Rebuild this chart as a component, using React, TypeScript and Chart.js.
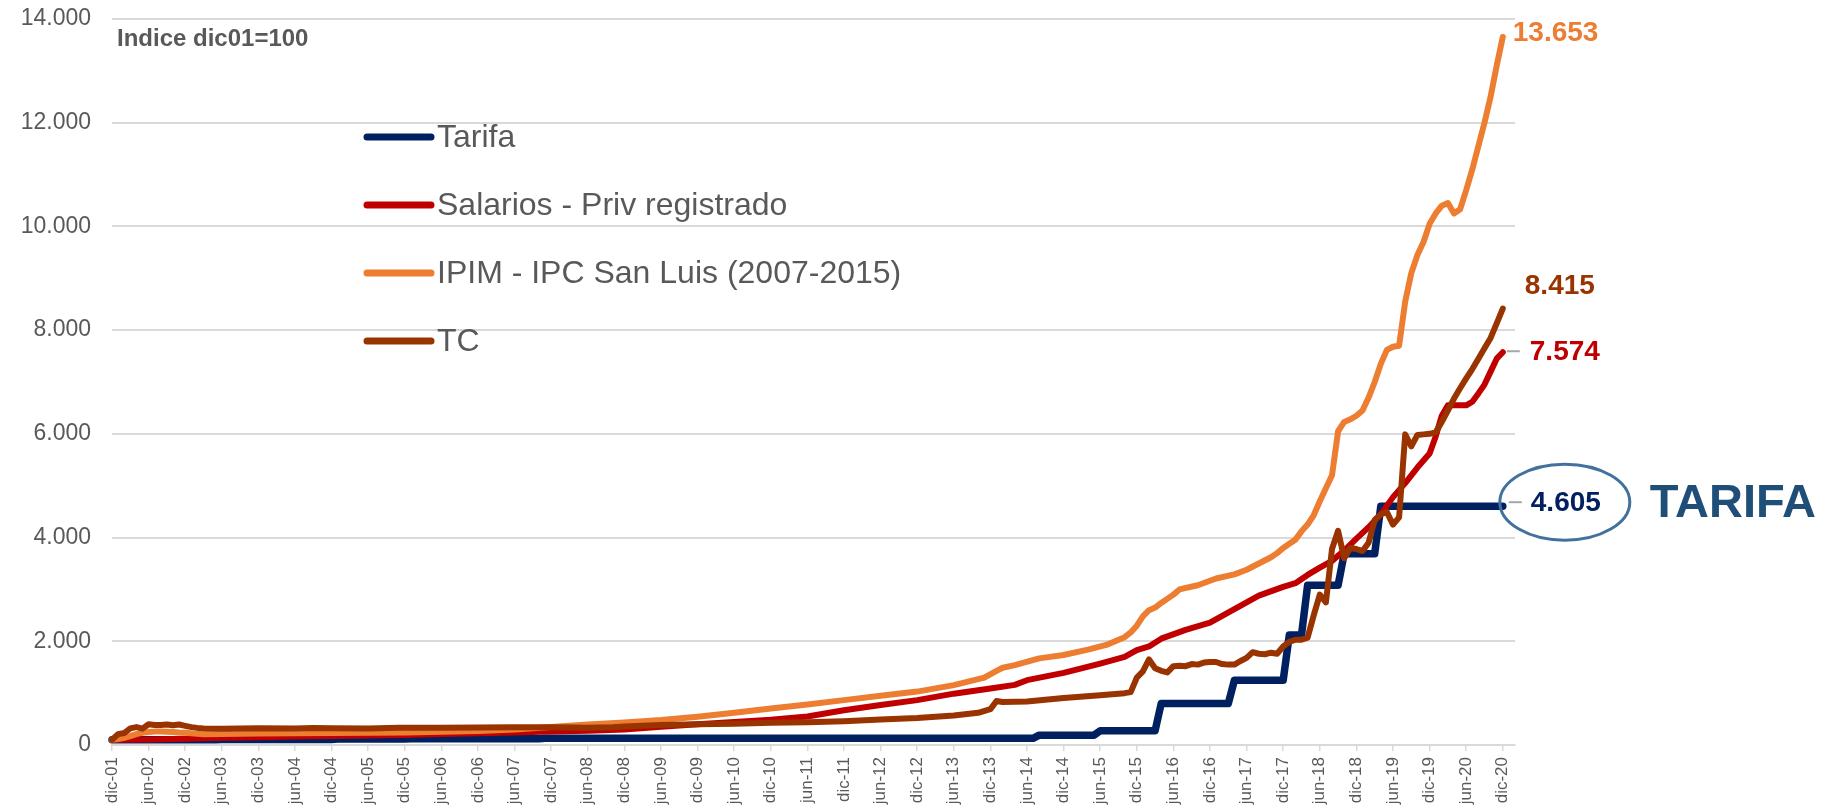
import { useEffect, useRef } from 'react';
import { Chart, registerables } from 'chart.js';

Chart.register(...registerables);

const FONT = '"Liberation Sans", Arial, Helvetica, sans-serif';

// Tick labels: every 6 months, month index 0 = dic-01
const tickLabels = [
  'dic-01', 'jun-02', 'dic-02', 'jun-03', 'dic-03', 'jun-04', 'dic-04', 'jun-05', 'dic-05',
  'jun-06', 'dic-06', 'jun-07', 'dic-07', 'jun-08', 'dic-08', 'jun-09', 'dic-09', 'jun-10',
  'dic-10', 'jun-11', 'dic-11', 'jun-12', 'dic-12', 'jun-13', 'dic-13', 'jun-14', 'dic-14',
  'jun-15', 'dic-15', 'jun-16', 'dic-16', 'jun-17', 'dic-17', 'jun-18', 'dic-18', 'jun-19',
  'dic-19', 'jun-20', 'dic-20',
];

const seriesNames = ['Tarifa', 'Salarios - Priv registrado', 'IPIM - IPC San Luis (2007-2015)', 'TC'];
const seriesColors = ['#002060', '#C00000', '#ED7D31', '#993300'];

// Tarifa (month index -> index value)
const tarifaMonths = [0, 17, 18, 36, 37, 48, 49, 70, 71, 151, 152, 161, 162, 171, 172, 183, 184, 192, 193, 195, 196, 201, 202, 207, 208, 228];
const tarifaValues = [100, 100, 105, 105, 115, 115, 122, 122, 128, 128, 190, 190, 275, 275, 800, 800, 1250, 1250, 2120, 2120, 3080, 3080, 3690, 3690, 4605, 4605];

// Salarios - Priv registrado
const salariosMonths = [0, 6, 12, 18, 24, 30, 36, 42, 48, 54, 60, 66, 72, 78, 84, 90, 96, 102, 108, 114, 120, 126, 132, 138, 144, 148, 150, 156, 162, 166, 168, 170, 172, 176, 180, 184, 188, 192, 194, 196, 198, 200, 202, 204, 206, 208, 210, 212, 214, 216, 217, 218, 219, 222, 223, 224, 225, 226, 227, 228];
const salariosValues = [100, 108, 122, 138, 150, 162, 175, 183, 192, 210, 225, 240, 258, 275, 300, 350, 400, 445, 485, 550, 670, 770, 865, 990, 1090, 1160, 1250, 1390, 1570, 1700, 1830, 1900, 2050, 2220, 2360, 2620, 2880, 3050, 3120, 3280, 3420, 3550, 3750, 3980, 4200, 4450, 4780, 5050, 5350, 5620, 5950, 6350, 6550, 6550, 6620, 6780, 6950, 7200, 7450, 7574];

// IPIM - IPC San Luis (2007-2015)
const ipimMonths = [0, 1, 2, 3, 4, 5, 6, 7, 8, 9, 10, 11, 12, 15, 18, 24, 36, 48, 54, 60, 66, 72, 78, 84, 90, 96, 102, 108, 114, 120, 126, 132, 138, 143, 145, 146, 148, 152, 156, 160, 163, 166, 167, 168, 169, 170, 171, 172, 174, 175, 178, 181, 184, 186, 188, 190, 191, 192, 193, 194, 195, 196, 197, 198, 199, 200, 201, 202, 203, 204, 205, 206, 207, 208, 209, 210, 211, 212, 213, 214, 215, 216, 217, 218, 219, 220, 221, 222, 223, 224, 225, 226, 227, 228];
const ipimValues = [100, 115, 140, 170, 210, 235, 250, 258, 258, 255, 250, 240, 235, 205, 212, 222, 230, 240, 255, 270, 300, 345, 395, 435, 480, 545, 620, 705, 780, 865, 950, 1030, 1155, 1300, 1430, 1490, 1540, 1670, 1735, 1840, 1930, 2080, 2170, 2300, 2480, 2600, 2650, 2740, 2900, 3000, 3080, 3210, 3290, 3380, 3500, 3620, 3700, 3800, 3880, 3960, 4120, 4250, 4430, 4700, 4950, 5200, 6050, 6230, 6280, 6350, 6450, 6700, 7000, 7350, 7620, 7680, 7700, 8550, 9100, 9450, 9700, 10050, 10250, 10400, 10450, 10250, 10330, 10700, 11100, 11550, 12000, 12500, 13100, 13653];

// TC
const tcMonths = [0, 1, 2, 3, 4, 5, 6, 7, 8, 9, 10, 11, 12, 13, 14, 15, 18, 24, 30, 33, 36, 42, 47, 48, 54, 60, 66, 72, 78, 82, 84, 87, 90, 96, 102, 108, 114, 120, 126, 132, 138, 142, 144, 145, 146, 150, 156, 162, 166, 167, 168, 169, 170, 171, 172, 173, 174, 175, 176, 177, 178, 179, 180, 181, 182, 183, 184, 185, 186, 187, 188, 189, 190, 191, 192, 193, 194, 195, 196, 197, 198, 199, 200, 201, 202, 203, 204, 205, 206, 207, 208, 209, 210, 211, 212, 213, 214, 215, 216, 217, 218, 219, 220, 221, 222, 223, 224, 225, 226, 227, 228];
const tcValues = [100, 210, 230, 320, 345, 315, 400, 385, 385, 395, 380, 395, 370, 345, 330, 320, 312, 325, 318, 330, 322, 318, 332, 335, 335, 338, 340, 340, 335, 340, 355, 370, 385, 400, 410, 430, 440, 460, 490, 520, 570, 620, 690, 850, 830, 840, 905, 960, 1000, 1020, 1300, 1420, 1650, 1480, 1430, 1400, 1520, 1530, 1520, 1560, 1550, 1590, 1600, 1600, 1560, 1550, 1550, 1620, 1680, 1790, 1760, 1750, 1780, 1760, 1900, 1990, 2030, 2030, 2070, 2500, 2900, 2750, 3780, 4130, 3600, 3800, 3780, 3740, 3900, 4340, 4450, 4490, 4250, 4390, 5990, 5760, 5980, 5990, 6000, 6030, 6230, 6450, 6680, 6880, 7070, 7250, 7450, 7650, 7850, 8130, 8415];

const noteText = 'Indice dic01=100';
const highlightText = 'TARIFA';

const seriesMonths = [tarifaMonths, salariosMonths, ipimMonths, tcMonths];
const seriesValues = [tarifaValues, salariosValues, ipimValues, tcValues];

const fmt = (v: number) => Math.round(v).toString().replace(/\B(?=(\d{3})+(?!\d))/g, '.');

// end-label placement (style only): dx, dy, leader
const endLabelStyle = [
  { dx: 28, dy: -4, leader: [6, 19] },
  { dx: 27, dy: -1, leader: [4, 17] },
  { dx: 10, dy: -5, leader: null },
  { dx: 22, dy: -23, leader: null },
];

const overlayPlugin = {
  id: 'overlay',
  afterDatasetsDraw(chart: any) {
    const { ctx } = chart;
    ctx.save();

    // note
    ctx.font = `bold 24px ${FONT}`;
    ctx.fillStyle = '#595959';
    ctx.textAlign = 'left';
    ctx.textBaseline = 'alphabetic';
    ctx.fillText(noteText, 117, 46);

    // legend
    chart.data.datasets.forEach((ds: any, i: number) => {
      const cy = 137 + i * 68;
      ctx.strokeStyle = ds.borderColor;
      ctx.lineWidth = 7;
      ctx.lineCap = 'round';
      ctx.beginPath();
      ctx.moveTo(367, cy);
      ctx.lineTo(431, cy);
      ctx.stroke();
      ctx.font = `32px ${FONT}`;
      ctx.fillStyle = '#595959';
      ctx.textBaseline = 'middle';
      ctx.fillText(ds.label, 437, cy + 1);
    });

    // end labels
    chart.data.datasets.forEach((ds: any, i: number) => {
      const meta = chart.getDatasetMeta(i);
      const last = meta.data[meta.data.length - 1];
      const v = ds.data[ds.data.length - 1].y;
      const st = endLabelStyle[i];
      const px = last.x;
      const py = last.y;
      if (st.leader) {
        ctx.strokeStyle = '#a6a6a6';
        ctx.lineWidth = 2;
        ctx.lineCap = 'butt';
        ctx.beginPath();
        ctx.moveTo(px + st.leader[0], py + st.dy);
        ctx.lineTo(px + st.leader[1], py + st.dy);
        ctx.stroke();
      }
      ctx.font = `bold 28px ${FONT}`;
      ctx.fillStyle = ds.borderColor;
      ctx.textAlign = 'left';
      ctx.textBaseline = 'middle';
      ctx.fillText(fmt(v), px + st.dx, py + st.dy + 1);

      if (i === 0) {
        ctx.strokeStyle = '#41719C';
        ctx.lineWidth = 3;
        ctx.beginPath();
        ctx.ellipse(px + 62, py - 4, 65, 38, 0, 0, Math.PI * 2);
        ctx.stroke();
        ctx.font = `bold 47px ${FONT}`;
        ctx.fillStyle = '#1F4E79';
        ctx.fillText(highlightText, px + 147, py - 2);
      }
    });
    ctx.restore();
  },
};

export default function App() {
  const ref = useRef<HTMLCanvasElement>(null);

  useEffect(() => {
    if (!ref.current) return;
    const datasets = seriesNames.map((name, i) => ({
      label: name,
      data: seriesMonths[i].map((m, j) => ({ x: m, y: seriesValues[i][j] })),
      borderColor: seriesColors[i],
      backgroundColor: seriesColors[i],
      borderWidth: i === 0 ? 7.5 : 6,
      pointRadius: 0,
      pointHoverRadius: 0,
      tension: 0,
      borderJoinStyle: 'round' as const,
      borderCapStyle: 'round' as const,
      order: 4 - i,
      clip: false as const,
    }));

    const chart = new Chart(ref.current, {
      type: 'line',
      data: { datasets },
      options: {
        animation: false,
        responsive: false,
        devicePixelRatio: 1,
        layout: { padding: { left: 0, right: 311, top: 19, bottom: 0 } },
        plugins: {
          legend: { display: false },
          tooltip: { enabled: false },
        },
        scales: {
          x: {
            type: 'linear',
            bounds: 'data',
            min: 0,
            max: 230,
            afterBuildTicks: (scale: any) => {
              scale.ticks = tickLabels.map((_, i) => ({ value: i * 6 }));
            },
            afterFit: (scale: any) => {
              scale.height = 66;
              scale.paddingLeft = 0;
              scale.paddingRight = 0;
            },
            ticks: {
              autoSkip: false,
              maxRotation: 90,
              minRotation: 90,
              padding: 6,
              color: '#595959',
              font: { family: FONT, size: 17 },
              callback: (v: any) => tickLabels[Math.round(Number(v) / 6)] ?? '',
            },
            grid: {
              drawOnChartArea: false,
              drawTicks: true,
              tickLength: 6,
              color: '#d9d9d9',
              lineWidth: 1.5,
            },
            border: { display: true, color: '#d9d9d9', width: 2 },
          },
          y: {
            min: 0,
            max: 14000,
            afterFit: (scale: any) => {
              scale.width = 112;
              scale.paddingTop = 0;
              scale.paddingBottom = 0;
            },
            ticks: {
              stepSize: 2000,
              padding: 21,
              color: '#595959',
              font: { family: FONT, size: 23 },
              callback: (v: any) => fmt(Number(v)),
            },
            grid: { color: '#d9d9d9', lineWidth: 2, drawTicks: false },
            border: { display: false },
          },
        },
      } as any,
      plugins: [overlayPlugin],
    });
    return () => chart.destroy();
  }, []);

  return (
    <div style={{ position: 'absolute', left: 0, top: 0, width: 1826, height: 811, background: '#ffffff' }}>
      <canvas ref={ref} width={1826} height={811} style={{ display: 'block' }} />
    </div>
  );
}
